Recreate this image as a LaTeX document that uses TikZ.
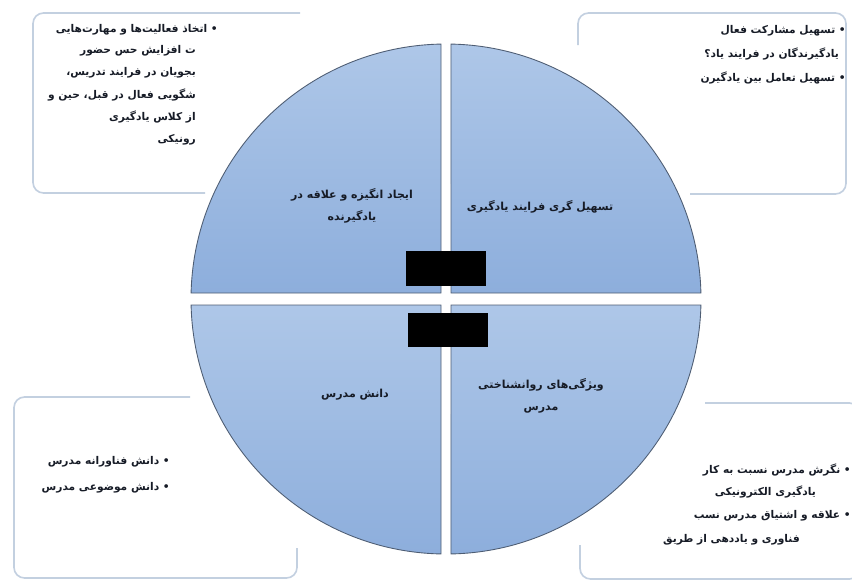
\documentclass[tikz,border=0pt]{standalone}
\usepackage{fontspec}
\usepackage{xcolor}
\usepackage{tikz}
\usetikzlibrary{
  calc,
  positioning
}
\TeXXeTstate=1
\newfontfamily\farsi[Script=Arabic]{DejaVu Sans}
\definecolor{tcQuadTop}{HTML}{AEC7E8}
\definecolor{tcQuadBot}{HTML}{8DAEDC}
\definecolor{tcEdge}{HTML}{4E5D73}
\definecolor{tcFrame}{HTML}{C3D0E0}
\definecolor{tcText}{HTML}{161B26}
\tikzset{
  quad/.style={draw=tcEdge, line width=0.75pt, top color=tcQuadTop, bottom color=tcQuadBot},
  boxline/.style={draw=tcFrame, line width=1.4pt, rounded corners=9pt},
  qlabel/.style={font=\farsi\bfseries\fontsize{9.4}{18.5}\selectfont, text=tcText, align=center, inner sep=0pt},
  bullettext/.style={font=\farsi\bfseries\fontsize{9.1}{10}\selectfont, text=tcText, anchor=east, inner sep=0pt},
  redact/.style={fill=black}
}

\begin{document}
\begin{tikzpicture}[x=0.03cm, y=0.03cm]
  \useasboundingbox (0,0) rectangle (852,-581);
  \coordinate (c) at (446,-299);

  % side boxes, open towards the circle
  \draw[boxline] (300,-13) -- (33,-13) -- (33,-193) -- (205,-193);
  \draw[boxline] (578,-45) -- (578,-13) -- (846,-13) -- (846,-194) -- (690,-194);
  \draw[boxline] (190,-397) -- (14,-397) -- (14,-578) -- (297,-578) -- (297,-548);
  \draw[boxline] (705,-403) -- (860,-403) -- (860,-579) -- (580,-579) -- (580,-545);

  % the four quarters
  \path[quad] (441,-293) -- ($(c)+(178.65:255)$) arc[start angle=178.65, end angle=91.12, radius=255] -- cycle;
  \path[quad] (451,-293) -- ($(c)+(1.35:255)$) arc[start angle=1.35, end angle=88.88, radius=255] -- cycle;
  \path[quad] (441,-305) -- ($(c)+(181.35:255)$) arc[start angle=181.35, end angle=268.88, radius=255] -- cycle;
  \path[quad] (451,-305) -- ($(c)+(358.65:255)$) arc[start angle=358.65, end angle=271.12, radius=255] -- cycle;

  \node[qlabel] (motiv) at (352,-206) {\beginR ایجاد انگیزه و علاقه در\endR\\\beginR یادگیرنده\endR};
  \node[qlabel] (facil) at (540,-207) {\beginR تسهیل گری فرایند یادگیری\endR};
  \node[qlabel] (know) at (355,-395) {\beginR دانش مدرس\endR};
  \node[qlabel] (psych) at (541,-396) {\beginR ویژگی‌های روانشناختی\endR\\\beginR مدرس\endR};

  % top left box
  \node[bullettext] (tl1) at (218,-30) {\beginR • اتخاذ فعالیت‌ها و مهارت‌هایی\endR};
  \node[bullettext] (tl2) at (196,-51) {\beginR ت افزایش حس حضور\endR};
  \node[bullettext] (tl3) at (196,-73) {\beginR بجویان در فرایند تدریس،\endR};
  \node[bullettext] (tl4) at (196,-95) {\beginR شگویی فعال در قبل، حین و\endR};
  \node[bullettext] (tl5) at (196,-117) {\beginR از کلاس یادگیری\endR};
  \node[bullettext] (tl6) at (196,-140) {\beginR رونیکی\endR};

  % top right box
  \node[bullettext] (tr1) at (846,-31) {\beginR • تسهیل مشارکت فعال\endR};
  \node[bullettext] (tr2) at (839,-54) {\beginR یادگیرندگان در فرایند یاد؟\endR};
  \node[bullettext] (tr3) at (846,-78) {\beginR • تسهیل تعامل بین یادگیرن\endR};

  % bottom left box
  \node[bullettext] (bl1) at (170,-462) {\beginR • دانش فناورانه مدرس\endR};
  \node[bullettext] (bl2) at (170,-488) {\beginR • دانش موضوعی مدرس\endR};

  % bottom right box
  \node[bullettext] (br1) at (851,-470) {\beginR • نگرش مدرس نسبت به کار\endR};
  \node[bullettext] (br2) at (816,-492) {\beginR یادگیری الکترونیکی\endR};
  \node[bullettext] (br3) at (851,-516) {\beginR • علاقه و اشتیاق مدرس نسب\endR};
  \node[bullettext] (br4) at (800,-540) {\beginR فناوری و یاددهی از طریق\endR};

  % blacked out labels
  \fill[redact] (406,-251) rectangle (486,-286);
  \fill[redact] (408,-313) rectangle (488,-347);
\end{tikzpicture}
\end{document}
